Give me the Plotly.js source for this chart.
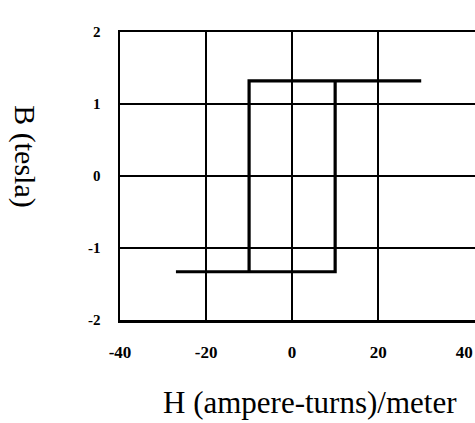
<!DOCTYPE html>
<html>
<head>
<meta charset="utf-8">
<script src="https://cdn.plot.ly/plotly-3.0.1.min.js"></script>
<style>html,body{margin:0;padding:0;background:#fff;}#chart{width:475px;height:423px;}</style>
</head>
<body>
<div id="chart"></div>
<script>
// Hysteresis loop path (H in ampere-turns/meter, B in tesla)
var H = [30, -10, -10, -27, 10, 10, 30];
var B = [1.32, 1.32, -1.33, -1.33, -1.33, 1.32, 1.32];
var xTicks = [-40, -20, 0, 20, 40];
var xTickLabels = ['-40', '-20', '0', '20', '40'];
var xGridTicks = [-40, -20, 0, 20];
var yTicks = [-2, -1, 0, 1, 2];
var yTickLabels = ['-2', '-1', '0', '1', '2'];
var xTitle = 'H (ampere-turns)/meter';
var yTitle = 'B (tesla)';

var serif = '"Liberation Serif", "Times New Roman", serif';
var xRange = [-40, 42.5];

var trace = {
  x: H, y: B, type: 'scatter', mode: 'lines',
  line: {color: '#000', width: 3.2},
  hoverinfo: 'none', showlegend: false
};

var layout = {
  width: 475, height: 423,
  margin: {l: 120, r: 0, t: 32, b: 103, pad: 0},
  paper_bgcolor: '#fff', plot_bgcolor: '#fff',
  font: {family: serif, color: '#000'},
  xaxis: {
    range: xRange, tickvals: xGridTicks, showticklabels: false,
    ticks: '', showgrid: true, gridcolor: '#000', gridwidth: 2,
    zeroline: false, showline: true, mirror: true, linecolor: '#000', linewidth: 2.5,
    fixedrange: true
  },
  xaxis2: {
    overlaying: 'x', anchor: 'y', side: 'bottom',
    range: xRange, tickvals: xTicks, ticktext: xTickLabels,
    ticks: '', showgrid: false, zeroline: false, showline: false,
    tickfont: {family: serif, size: 17, color: '#000', weight: 'bold'},
    ticklabelstandoff: 20, fixedrange: true
  },
  yaxis: {
    range: [-2, 2], tickvals: yTicks, ticktext: yTickLabels,
    ticks: '', showgrid: true, gridcolor: '#000', gridwidth: 2,
    zeroline: false, showline: true, mirror: false, linecolor: '#000', linewidth: 2.5,
    tickfont: {family: serif, size: 15, color: '#000', weight: 'bold'},
    ticklabelstandoff: 14, fixedrange: true
  },
  annotations: [
    {text: xTitle, xref: 'paper', yref: 'paper', x: 0.535, y: -0.288,
     xanchor: 'center', yanchor: 'middle', showarrow: false,
     font: {family: serif, size: 31, color: '#000'}},
    {text: yTitle, xref: 'paper', yref: 'paper', x: -0.268, y: 0.569,
     xanchor: 'center', yanchor: 'middle', showarrow: false, textangle: 90,
     font: {family: serif, size: 30, color: '#000'}}
  ]
};

// an invisible trace on the label axis so that it is drawn
var labelTrace = {x: [xRange[0]], y: [0], xaxis: 'x2', yaxis: 'y', type: 'scatter',
  mode: 'markers', marker: {opacity: 0}, hoverinfo: 'none', showlegend: false};

Plotly.newPlot('chart', [trace, labelTrace], layout, {staticPlot: true, displayModeBar: false});
</script>
</body>
</html>
